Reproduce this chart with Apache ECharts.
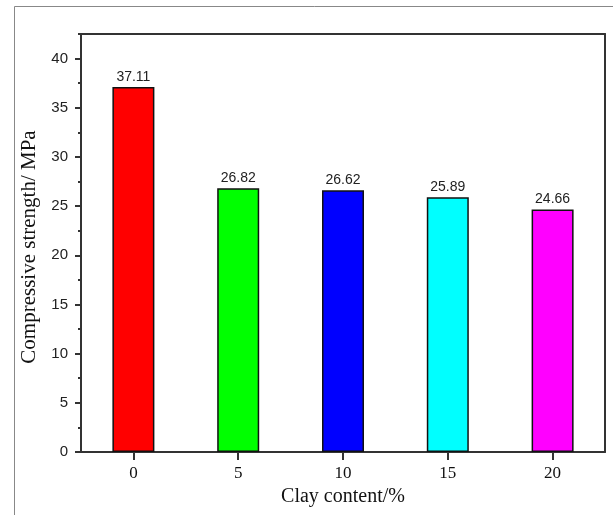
<!DOCTYPE html>
<html>
<head>
<meta charset="utf-8">
<script src="https://cdn.jsdelivr.net/npm/echarts@6/dist/echarts.min.js"></script>
<style>html,body{margin:0;padding:0;background:#fff;}#c{width:613px;height:515px;}</style>
</head>
<body>
<div id="c"></div>
<script>
const clayContent = [0, 5, 10, 15, 20];
const strength = [37.11, 26.82, 26.62, 25.89, 24.66];
const barColors = ['#ff0000', '#00ff00', '#0000ff', '#00ffff', '#ff00ff'];
const yTickLabels = [0, 5, 10, 15, 20, 25, 30, 35, 40];
const yMinorTicks = [2.5, 7.5, 12.5, 17.5, 22.5, 27.5, 32.5, 37.5, 42.5];

const chart = echarts.init(document.getElementById('c'));
const axisColor = '#333';
const serif = '"Liberation Serif", "Times New Roman", serif';
const sans = '"Liberation Sans", Arial, sans-serif';

chart.setOption({
  animation: false,
  backgroundColor: '#fff',
  graphic: [{
    type: 'rect', shape: { x: 14.5, y: 6.5, width: 700, height: 600 },
    style: { fill: 'none', stroke: '#888', lineWidth: 1 }, z: -1
  }],
  grid: { left: 81, top: 34, right: 8, bottom: 63, containLabel: false },
  xAxis: [{
    type: 'value', min: -2.5, max: 22.5, position: 'bottom',
    name: 'Clay content/%', nameLocation: 'middle', nameGap: 33,
    nameTextStyle: { fontFamily: serif, fontSize: 20, color: '#111' },
    axisLine: { show: true, onZero: false, lineStyle: { color: axisColor, width: 2 } },
    axisTick: { show: true, inside: false, length: 8, customValues: clayContent, lineStyle: { color: axisColor, width: 2 } },
    axisLabel: { customValues: clayContent, margin: 13, fontFamily: serif, fontSize: 17, color: '#111' },
    splitLine: { show: false }
  }, {
    type: 'value', min: -2.5, max: 22.5, position: 'top',
    axisLine: { show: true, onZero: false, lineStyle: { color: axisColor, width: 2 } },
    axisTick: { show: false }, axisLabel: { show: false }, splitLine: { show: false }
  }],
  yAxis: [{
    type: 'value', min: 0, max: 42.5, position: 'left',
    name: 'Compressive strength/ MPa', nameLocation: 'middle', nameGap: 28,
    nameTextStyle: { fontFamily: serif, fontSize: 21, color: '#111', padding: [0, 8, 0, 0] },
    axisLine: { show: true, onZero: false, lineStyle: { color: axisColor, width: 2 } },
    axisTick: { show: true, inside: false, length: 6, customValues: yTickLabels, lineStyle: { color: axisColor, width: 2 } },
    axisLabel: { customValues: yTickLabels, margin: 13, fontFamily: sans, fontSize: 15, color: '#222' },
    splitLine: { show: false }
  }, {
    type: 'value', min: 0, max: 42.5, position: 'left',
    axisLine: { show: false, onZero: false },
    axisTick: { show: true, inside: false, length: 3, customValues: yMinorTicks, lineStyle: { color: axisColor, width: 2 } },
    axisLabel: { show: false }, splitLine: { show: false }
  }, {
    type: 'value', min: 0, max: 42.5, position: 'right',
    axisLine: { show: true, onZero: false, lineStyle: { color: axisColor, width: 2 } },
    axisTick: { show: false }, axisLabel: { show: false }, splitLine: { show: false }
  }],
  series: [{
    type: 'bar',
    xAxisIndex: 0, yAxisIndex: 0,
    barWidth: 42,
    data: clayContent.map((x, i) => ({
      value: [x, strength[i]],
      itemStyle: { color: barColors[i], borderColor: '#111', borderWidth: 1.5 }
    })),
    label: {
      show: true, position: 'top', distance: 3,
      formatter: p => strength[p.dataIndex].toFixed(2),
      fontFamily: sans, fontSize: 14, color: '#222'
    }
  }]
});
</script>
</body>
</html>
